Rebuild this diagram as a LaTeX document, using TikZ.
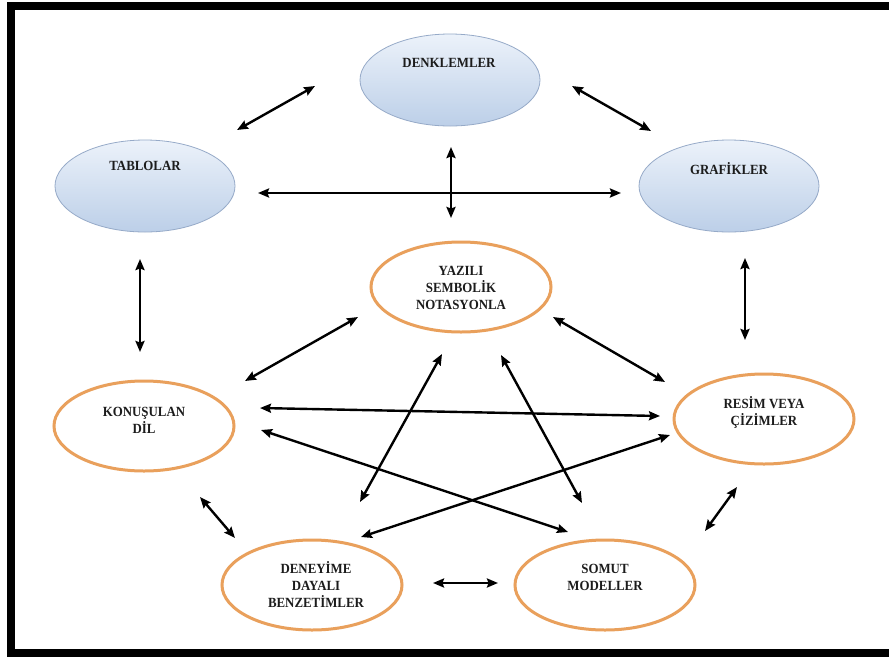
\documentclass[tikz,border=0pt]{standalone}
\usepackage{fontspec}
\setmainfont{Liberation Serif}
\usetikzlibrary{arrows.meta,shapes.geometric,calc}
\definecolor{ovalorange}{RGB}{233,160,92}
\definecolor{blueTop}{RGB}{236,242,250}
\definecolor{blueBot}{RGB}{188,207,232}
\definecolor{blueEdge}{RGB}{150,170,200}
\definecolor{labelink}{RGB}{28,28,28}
\tikzset{
  blueoval/.style={ellipse, draw=blueEdge, line width=0.8pt,
    top color=blueTop, bottom color=blueBot,
    minimum width=180pt, minimum height=92pt, inner sep=0pt},
  orangeoval/.style={ellipse, draw=ovalorange, line width=3pt, fill=white,
    minimum width=180pt, minimum height=90pt, inner sep=0pt},
  caption/.style={font=\fontsize{14}{17}\selectfont\bfseries, text=labelink,
    align=center, inner sep=0pt, xscale=0.92},
  link/.style={line width=2.4pt, black,
    {Stealth[length=11pt,width=9pt,inset=1.5pt]}-{Stealth[length=11pt,width=9pt,inset=1.5pt]}},
}
\begin{document}
\begin{tikzpicture}[x=1pt,y=-1pt]
\useasboundingbox (0,0) rectangle (889,657);
\fill[white] (0,0) rectangle (889,657);
% outer frame, open on the right
\draw[line width=8pt, miter limit=10] (895,5.5) -- (11,5.5) -- (11,653) -- (895,653);

% upper representations
\node[blueoval] (den) at (450,80) {};
\node[blueoval] (tab) at (145,186) {};
\node[blueoval] (gra) at (729,186) {};
% lower representations
\node[orangeoval] (yaz) at (461,287) {};
\node[orangeoval] (kon) at (144,426) {};
\node[orangeoval] (res) at (764,419) {};
\node[orangeoval] (dey) at (312,585) {};
\node[orangeoval] (som) at (605,585) {};

% labels
\node[caption] (tden) at (449,63) {DENKLEMLER};
\node[caption] (ttab) at (145,166) {TABLOLAR};
\node[caption] (tgra) at (729,169) {GRAFİKLER};
\node[caption] (tyaz) at (461,288) {YAZILI\\SEMBOLİK\\NOTASYONLA};
\node[caption] (tkon) at (144,420) {KONUŞULAN\\DİL};
\node[caption] (tres) at (764,412) {RESİM VEYA\\ÇİZİMLER};
\node[caption] (tdey) at (316,585) {DENEYİME\\DAYALI\\BENZETİMLER};
\node[caption] (tsom) at (605,577) {SOMUT\\MODELLER};

% two-way links
\draw[link] ($(den)+(-135,6)$) -- ($(tab)+(92,-56)$);
\draw[link] ($(den)+(122,6)$) -- ($(gra)+(-78,-55)$);
\draw[link] ($(tab)+(113,7)$) -- ($(gra)+(-108,7)$);
\draw[link] ($(den)+(1,67)$) -- ($(yaz)+(-10,-69)$);
\draw[link] ($(tab)+(-5,73)$) -- ($(kon)+(-4,-74)$);
\draw[link] ($(gra)+(16,72)$) -- ($(res)+(-19,-79)$);
\draw[link] ($(yaz)+(-103,30)$) -- ($(kon)+(101,-45)$);
\draw[link] ($(yaz)+(92,30)$) -- ($(res)+(-99,-37)$);
\draw[link] ($(kon)+(116,-18)$) -- ($(res)+(-104,-3)$);
\draw[link] ($(kon)+(117,4)$) -- ($(som)+(-37,-53)$);
\draw[link] ($(yaz)+(-19,67)$) -- ($(dey)+(48,-83)$);
\draw[link] ($(yaz)+(40,68)$) -- ($(som)+(-23,-82)$);
\draw[link] ($(res)+(-94,16)$) -- ($(dey)+(49,-48)$);
\draw[link] ($(kon)+(56,71)$) -- ($(dey)+(-77,-47)$);
\draw[link] ($(dey)+(121,-2)$) -- ($(som)+(-107,-2)$);
\draw[link] ($(res)+(-27,68)$) -- ($(som)+(100,-54)$);
\end{tikzpicture}
\end{document}
